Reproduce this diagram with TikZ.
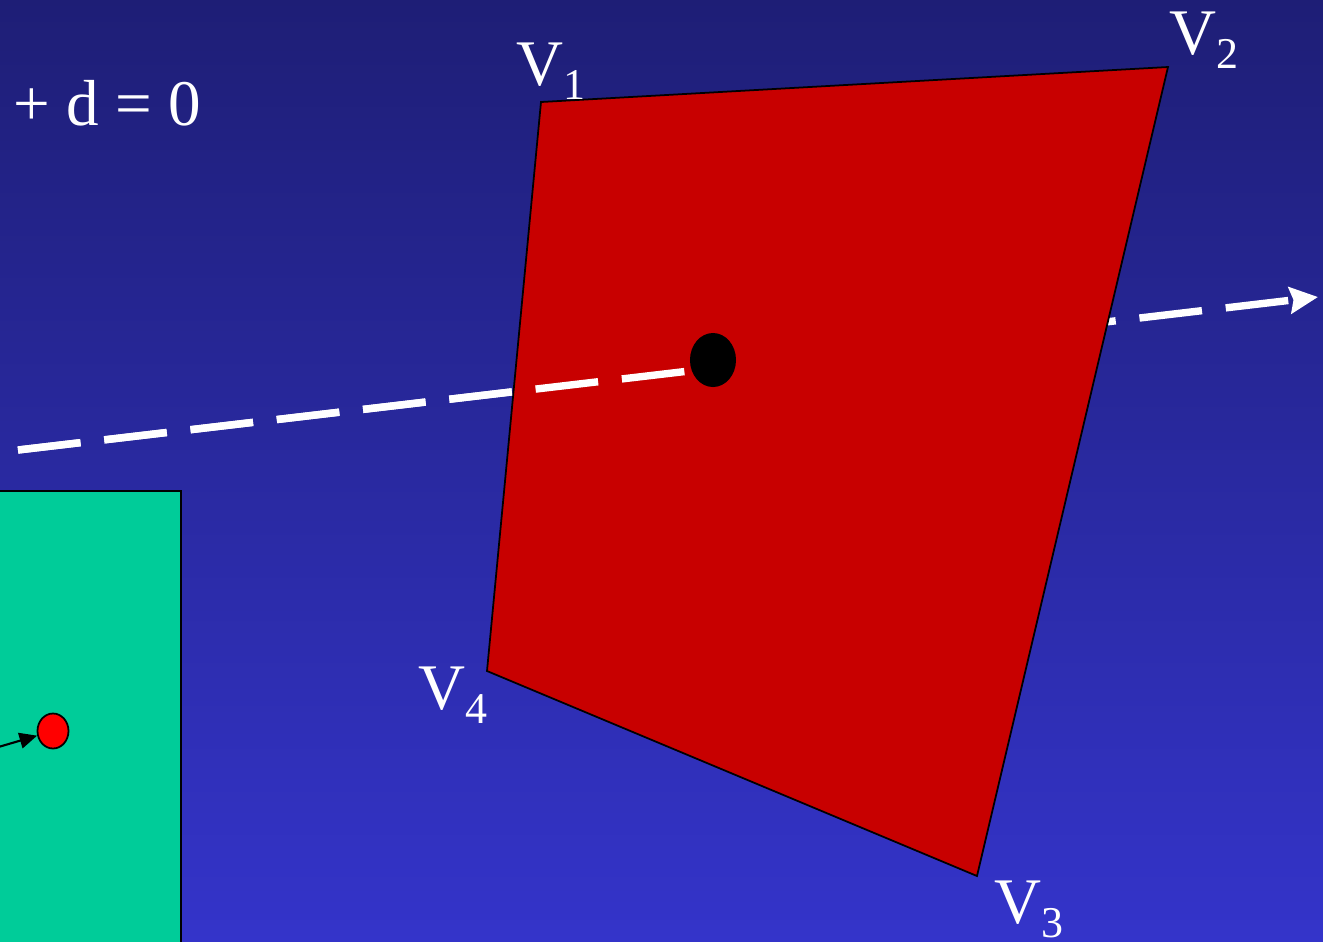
\documentclass[tikz,border=0pt]{standalone}
\usepackage{fontspec}
\setmainfont{Liberation Serif}
\usetikzlibrary{arrows.meta,shapes.geometric}
\newcommand{\vlab}[1]{V\raisebox{-0.23em}{\fontsize{12.5}{14}\selectfont #1}}
\begin{document}
\begin{tikzpicture}[x=0.01cm, y=-0.01cm,
        face/.style={fill=quadred, draw=black, line width=0.5pt},
        slab/.style={fill=slabgreen, draw=black, line width=0.6pt},
        ray/.style={draw=white, line width=2.1pt, dash pattern=on 17.9pt off 6.8pt,
          -{Stealth[length=8pt, width=7.5pt, inset=1pt]}},
        ptr/.style={draw=black, line width=0.6pt, -{Triangle[length=5pt, width=4.5pt]}},
        hitdot/.style={ellipse, fill=black, minimum width=0.46cm, minimum height=0.54cm, inner sep=0pt},
        spot/.style={ellipse, fill=spotred, draw=black, line width=0.5pt, minimum width=0.31cm, minimum height=0.35cm, inner sep=0pt},
        vl/.style={anchor=base west, inner sep=0pt, text=white, font=\fontsize{18.5}{22}\selectfont},
      ]
      \definecolor{bgtop}{HTML}{1E1E76}
      \definecolor{bgbot}{HTML}{3434CA}
      \definecolor{quadred}{HTML}{C80000}
      \definecolor{slabgreen}{HTML}{00CC99}
      \definecolor{spotred}{HTML}{FF0000}
      \path[use as bounding box] (0,0) rectangle (1323,941);
      \clip (0,0) rectangle (1323,941);
      \shade[top color=bgtop, bottom color=bgbot] (0,0) rectangle (1323,941);
      \node[vl] (eq) at (13,125) {+ d = 0};
      \filldraw[slab] (-5,491) rectangle (181,950);
      \node[spot] (spt) at (53,731) {};
      \coordinate (pin) at (-5,748);
      \draw[ptr] (pin) -- (spt);
      \coordinate (rs) at (18,450);
      \coordinate (re) at (1318,297);
      \draw[ray] (rs) -- (re);
      \coordinate (v1) at (541,102);
      \coordinate (v2) at (1168,67);
      \coordinate (v3) at (977,876);
      \coordinate (v4) at (487,671);
      \filldraw[face] (v1) -- (v2) -- (v3) -- (v4) -- cycle;
      \begin{scope}
        \clip (0,0) rectangle (713,941);
        \draw[ray] (rs) -- (re);
      \end{scope}
      \node[hitdot] (hit) at (713,360) {};
      \node[vl] (l1) at (516,85) {\vlab{1}};
      \node[vl] (l2) at (1169,54) {\vlab{2}};
      \node[vl] (l3) at (994,923) {\vlab{3}};
      \node[vl] (l4) at (418,709) {\vlab{4}};
    \end{tikzpicture}
\end{document}
